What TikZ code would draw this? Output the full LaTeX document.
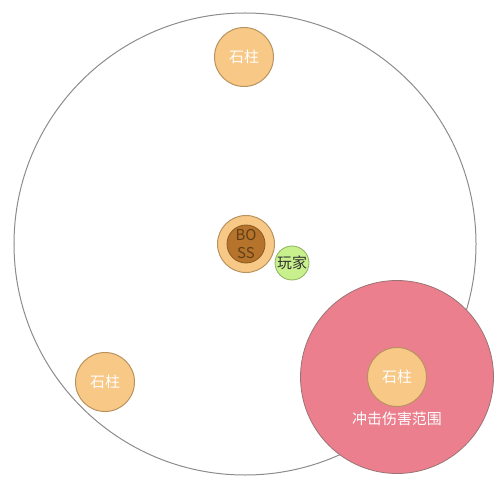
\documentclass[tikz,border=0pt]{standalone}
\usepackage{fontspec}
\setmainfont{Noto Sans CJK SC}
\usepackage{tikz}
\usetikzlibrary{positioning}
\definecolor{pillarfill}{HTML}{F8C887}
\definecolor{pillarline}{HTML}{B9935F}
\definecolor{hitfill}{HTML}{EB7F8E}
\definecolor{hitline}{HTML}{9A7474}
\definecolor{bossfill}{HTML}{B5732C}
\definecolor{bossline}{HTML}{8B5A20}
\definecolor{playerfill}{HTML}{C8F08C}
\definecolor{playerline}{HTML}{8FB060}
\definecolor{arenaline}{HTML}{8C8C8C}

\begin{document}
\begin{tikzpicture}[%
	x=1bp, y=-1bp,
	font=\fontsize{15}{19}\selectfont, align=center,
	arena/.style={circle, draw=arenaline, line width=1bp, minimum size=462bp, inner sep=0},
	hit/.style={circle, draw=hitline, fill=hitfill, line width=0.8bp, minimum size=193bp, inner sep=0},
	pillar/.style={circle, draw=pillarline, fill=pillarfill, line width=1bp, minimum size=59bp, inner sep=0, text=white},
	boss/.style={circle, draw=bossline, fill=bossfill, line width=0.8bp, minimum size=38bp, inner sep=0, text=bossline!70!black},
	player/.style={circle, draw=playerline, fill=playerfill, line width=0.8bp, minimum size=34bp, inner sep=0, text=black!80}
	]
	\useasboundingbox (0,0) rectangle (500,488);
	
	\node[arena] (0) at (245,244) {};
	
	\node[hit] (h) at (397,377) {};
	
	\node[pillar] (1) at (244,57) {石柱};
	\node[pillar] (2) at (105,382) {石柱};
	\node[pillar] (3) at (397,377) {石柱};
	\node[text=white, below=1bp of 3] (t) {冲击伤害范围};
	
	\node[pillar, minimum size=57bp] (4) at (246,244) {};
	\node[boss] (b) at (246,244) {BO\\SS};
	
	\node[player] (5) at (292,263) {玩家};
	
\end{tikzpicture}
\end{document}
